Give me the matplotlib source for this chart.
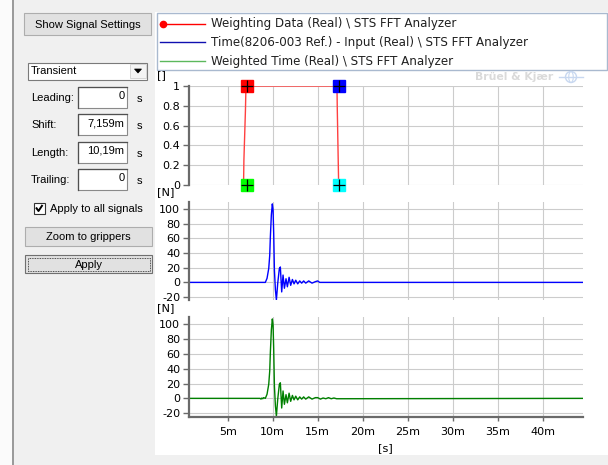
import matplotlib.pyplot as plt
from matplotlib.patches import Rectangle, Polygon, Circle, Ellipse

W, H = 608, 465

# weighting window, time in ms
t_weight = [6.76, 6.80, 6.97, 7.03, 17.14, 17.18, 17.28, 17.33]
w_weight = [0.0, 0.25, 0.75, 1.0, 1.0, 0.75, 0.25, 0.0]

# grippers (shift / shift + length)
grip_t = [7.16, 7.16, 17.35, 17.35]
grip_v = [1.0, 0.0, 1.0, 0.0]
grip_colors = ['#ff0000', '#00ff00', '#0000ff', '#00ffff']

# hammer input, [N]
t_input = [0.0, 9.18, 9.37, 9.56, 9.67, 9.74, 9.85, 9.96, 10.04, 10.11, 10.19,
           10.30, 10.41, 10.56, 10.74, 10.85, 11.00, 11.15, 11.30, 11.48, 11.63,
           11.82, 12.00, 12.19, 12.37, 12.56, 12.78, 13.00, 13.22, 13.44, 13.67,
           14.00, 14.37, 14.74, 15.00, 15.22, 45.0]
f_input = [0, 0, 5.5, 19, 37, 62, 92, 107, 99, 67, 17,
           -10, -24, -1, 19, 21, -13, 10, -8, 5, -6,
           7, -4, 4, -2, 3, -2, 2, -1, 2, -1,
           2, -1, 1, 2, 0, 0]

# weighted time, [N]
t_weighted = [0.0, 8.60, 8.70, 8.80, 8.90, 9.00, 9.18, 9.37, 9.56, 9.67, 9.74,
              9.85, 9.96, 10.04, 10.11, 10.19, 10.30, 10.41, 10.56, 10.74, 10.85,
              11.00, 11.15, 11.30, 11.48, 11.63, 11.82, 12.00, 12.19, 12.37, 12.56,
              12.78, 13.00, 13.22, 13.44, 13.67, 14.00, 14.37, 14.74, 15.00, 15.30,
              15.60, 15.90, 16.20, 16.50, 16.80, 17.10, 45.0]
f_weighted = [0, 0, -1, 0.5, -0.5, 1, 0, 5.5, 19, 37, 62,
              92, 107, 99, 67, 17, -10, -24, -1, 19, 21,
              -13, 10, -8, 5, -6, 7, -4, 4, -2, 3,
              -2, 2, -1, 2, -1, 2, -1, 1, 1, -1,
              0.5, -0.5, 1, -0.5, 0.5, -0.5, 0]

x_ticks = [5, 10, 15, 20, 25, 30, 35, 40]
x_labels = ['%dm' % v for v in x_ticks]
w_ticks = [0, 0.2, 0.4, 0.6, 0.8, 1.0]
w_labels = ['0', '0.2', '0.4', '0.6', '0.8', '1']
n_ticks = [-20, 0, 20, 40, 60, 80, 100]

legend_labels = ['Weighting Data (Real) \\ STS FFT Analyzer',
                 'Time(8206-003 Ref.) - Input (Real) \\ STS FFT Analyzer',
                 'Weighted Time (Real) \\ STS FFT Analyzer']
legend_colors = ['#ff0000', '#1010b0', '#5cb85c']

UI = 'Liberation Sans'
CH = 'DejaVu Sans'
TICK_FS = 8

fig = plt.figure(figsize=(W / 100, H / 100), dpi=100, facecolor='#f0f0f0')

# background / window widgets in pixel coordinates
bg = fig.add_axes([0, 0, 1, 1], zorder=0)
bg.set_xlim(0, W)
bg.set_ylim(H, 0)
bg.axis('off')

bg.add_patch(Rectangle((0, 0), 12, H, fc='#fbfbfb', ec='none'))
bg.plot([12.5, 12.5], [0, H], color='#8a8a8a', lw=1.2)
bg.add_patch(Rectangle((155, 12), W - 155, 443, fc='white', ec='none'))


def button(x0, y0, x1, y1, label, focus=False):
    bg.add_patch(Rectangle((x0, y0), x1 - x0, y1 - y0, fc='#e1e1e1',
                           ec='#707070' if focus else '#adadad', lw=0.8))
    if focus:
        bg.add_patch(Rectangle((x0 + 2.5, y0 + 2.5), x1 - x0 - 5, y1 - y0 - 5,
                               fc='none', ec='#202020', lw=0.6, ls=(0, (1, 1))))
    bg.text((x0 + x1) / 2, (y0 + y1) / 2 + 0.5, label, ha='center', va='center',
            fontsize=8, family=UI)


button(24, 13, 151, 35, 'Show Signal Settings')
button(25, 227, 152, 246, 'Zoom to grippers')
button(25, 255, 152, 273, 'Apply', focus=True)

# combo box
bg.add_patch(Rectangle((28, 63), 119, 17, fc='white', ec='#7a7a7a', lw=0.8))
bg.text(31, 71.5, 'Transient', va='center', fontsize=8, family=UI)
bg.add_patch(Rectangle((130, 64.5), 16, 14, fc='#f4f4f4', ec='#d0d0d0', lw=0.6))
bg.add_patch(Polygon([[134.5, 69], [141.5, 69], [138, 73]], closed=True,
                     fc='black', ec='black', lw=0.5))

# numeric fields
fields = [('Leading:', '0'), ('Shift:', '7,159m'), ('Length:', '10,19m'),
          ('Trailing:', '0')]
for i, (name, val) in enumerate(fields):
    y0 = 87 + i * 27.3
    bg.text(31, y0 + 11, name, va='center', fontsize=8, family=UI)
    bg.add_patch(Rectangle((78, y0), 49, 21, fc='white', ec='#8a8a8a', lw=0.8))
    bg.plot([78, 78, 127], [y0 + 21, y0, y0], color='#505050', lw=0.9)
    bg.text(124.5, y0 + 9, val, ha='right', va='center', fontsize=8, family=UI)
    bg.text(137, y0 + 12, 's', va='center', fontsize=8, family=UI)

# checkbox
bg.add_patch(Rectangle((34, 203), 10.5, 10.5, fc='white', ec='#333333', lw=0.8))
bg.plot([36, 38.5, 42.5], [207.5, 211, 205], color='black', lw=1.4,
        solid_capstyle='butt')
bg.text(50, 208.5, 'Apply to all signals', va='center', fontsize=8, family=UI)

# legend box
bg.add_patch(Rectangle((157, 13), 450, 57, fc='white', ec='#a9b9cf', lw=1))
for i, (lab, col) in enumerate(zip(legend_labels, legend_colors)):
    yy = 24 + i * 18.5
    bg.plot([160, 205], [yy, yy], color=col, lw=1)
    if i == 0:
        bg.plot([162.5], [yy], 'o', color=col, ms=4.5)
    bg.text(211, yy, lab, va='center', fontsize=8.6, family=CH, color='#202020')

# watermark
bg.text(475, 77.5, 'Brüel & Kjær', va='center', fontsize=7.8, family=CH,
        fontweight='bold', color='#dadada')
bg.add_patch(Circle((571, 77), 5.5, fc='none', ec='#c8d8f0', lw=1))
bg.add_patch(Ellipse((571, 77), 4.5, 11, fc='none', ec='#c8d8f0', lw=0.8))
bg.plot([559, 583], [77, 77], color='#c8d8f0', lw=1)

# unit labels
bg.text(157, 75, '[]', va='center', fontsize=8.2, family=CH)
bg.text(157, 192, '[N]', va='center', fontsize=8.2, family=CH)
bg.text(157, 308, '[N]', va='center', fontsize=8.2, family=CH)
bg.text(385, 448, '[s]', ha='center', va='center', fontsize=8.2, family=CH)


def px_axes(x0, y0, x1, y1):
    return fig.add_axes([x0 / W, 1 - y1 / H, (x1 - x0) / W, (y1 - y0) / H],
                        zorder=1)


X0, X1 = 188.5, 583
ax1 = px_axes(X0, 86, X1, 185)
ax2 = px_axes(X0, 201.7, X1, 300)
ax3 = px_axes(X0, 316.7, X1, 417.3)

for ax in (ax1, ax2, ax3):
    ax.set_facecolor('none')
    ax.set_xlim(0.644, 44.48)
    ax.set_xticks(x_ticks)
    ax.grid(True, color='#cccccc', lw=0.8)
    ax.set_axisbelow(True)
    for s in ('top', 'right', 'bottom'):
        ax.spines[s].set_visible(False)
    ax.spines['left'].set_color('#6a6a6a')
    ax.spines['left'].set_linewidth(1.6)
    ax.tick_params(axis='y', direction='out', length=4, width=1,
                   color='#6a6a6a', labelsize=TICK_FS, pad=2)
    ax.tick_params(axis='x', length=0, labelbottom=False)

ax1.set_ylim(0, 1)
ax1.set_yticks(w_ticks)
ax1.set_yticklabels(w_labels, family=CH)
ax1.plot(t_weight, w_weight, color='#ff4040', lw=1)
for t, v, c in zip(grip_t, grip_v, grip_colors):
    ax1.plot([t], [v], 's', color=c, ms=8, mec=c, clip_on=False, zorder=5)
    ax1.plot([t], [v], '+', color='black', ms=8, mew=0.9, clip_on=False,
             zorder=6)

ax2.set_ylim(-24, 110)
ax2.set_yticks(n_ticks)
ax2.set_yticklabels([str(v) for v in n_ticks], family=CH)
ax2.plot(t_input, f_input, color='#0000ff', lw=1)

ax3.set_ylim(-25.5, 110)
ax3.set_yticks(n_ticks)
ax3.set_yticklabels([str(v) for v in n_ticks], family=CH)
ax3.plot(t_weighted, f_weighted, color='#008000', lw=1)
ax3.spines['bottom'].set_visible(True)
ax3.spines['bottom'].set_color('#6a6a6a')
ax3.spines['bottom'].set_linewidth(1.6)
ax3.tick_params(axis='x', direction='out', length=3, width=1, color='#6a6a6a',
                labelbottom=True, labelsize=TICK_FS, pad=4)
ax3.set_xticklabels(x_labels, family=CH)

fig.savefig('out.png', dpi=100, facecolor=fig.get_facecolor())
